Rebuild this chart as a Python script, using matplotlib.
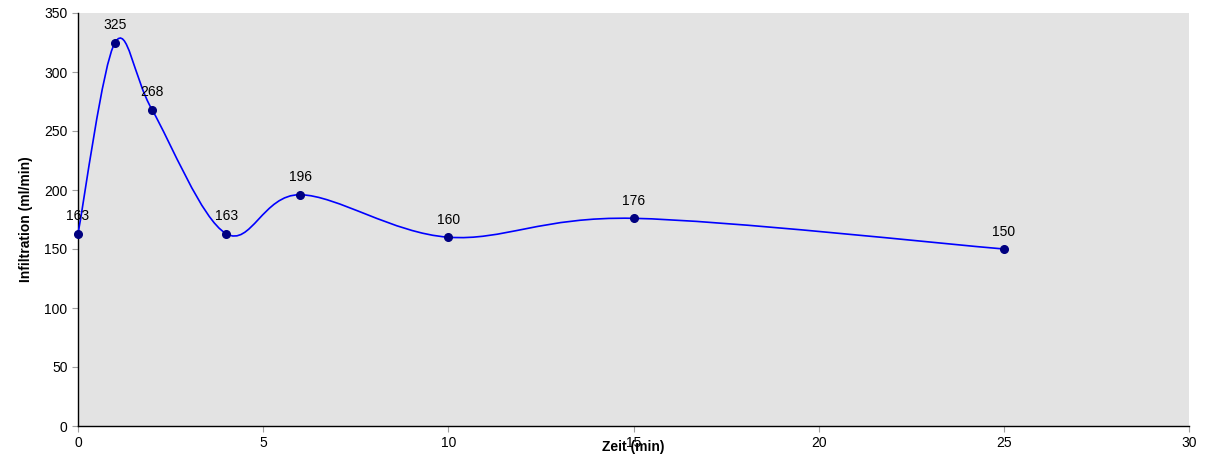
import numpy as np
import matplotlib
matplotlib.use("Agg")
import matplotlib.pyplot as plt
from matplotlib.path import Path
from matplotlib.patches import PathPatch

plt.rcParams['font.family'] = ['Liberation Sans', 'DejaVu Sans']

zeit = [0, 1, 2, 4, 6, 10, 15, 25]
infiltration = [163, 325, 268, 163, 196, 160, 176, 150]
x_ticks = [0, 5, 10, 15, 20, 25, 30]
y_ticks = [0, 50, 100, 150, 200, 250, 300, 350]

fig = plt.figure(figsize=(12.14, 4.57), dpi=100)
ax = fig.add_axes([78/1214, 1-426/457, (1189-78)/1214, (426-13)/457])
ax.set_facecolor('#E3E3E3')
ax.set_xlim(0, 30)
ax.set_ylim(0, 350)

# smooth curve (Excel-like Catmull-Rom Bezier in display space)
fig.canvas.draw()
tr = ax.transData
pts = tr.transform(np.column_stack([zeit, infiltration]))
n = len(pts)
verts = [pts[0]]
codes = [Path.MOVETO]
for i in range(n - 1):
    p0 = pts[i - 1] if i > 0 else pts[i]
    p1 = pts[i]
    p2 = pts[i + 1]
    p3 = pts[i + 2] if i + 2 < n else pts[i + 1]
    c1 = p1 + (p2 - p0) / 6.0
    c2 = p2 - (p3 - p1) / 6.0
    verts += [c1, c2, p2]
    codes += [Path.CURVE4] * 3
data_verts = tr.inverted().transform(np.array(verts))
patch = PathPatch(Path(data_verts, codes), facecolor='none', edgecolor='#0000FF',
                  lw=1.2, transform=ax.transData, zorder=3, clip_on=False)
ax.add_patch(patch)

ax.plot(zeit, infiltration, 'o', color='#000080', ms=5.5, zorder=4, clip_on=False)
for xv, yv in zip(zeit, infiltration):
    ax.annotate(str(yv), (xv, yv), xytext=(0, 7.5), textcoords='offset points',
                ha='center', va='bottom', fontsize=10, color='black')

ax.set_xticks(x_ticks)
ax.set_yticks(y_ticks)
ax.tick_params(axis='both', labelsize=10, length=4, color='#A0A0A0', width=0.8,
               direction='out')
ax.tick_params(axis='x', pad=3)
for s in ['top', 'right']:
    ax.spines[s].set_visible(False)
for s in ['left', 'bottom']:
    ax.spines[s].set_color('black')
    ax.spines[s].set_linewidth(1.0)

ax.set_xlabel('Zeit (min)', fontsize=10, fontweight='bold', labelpad=-7)
ax.set_ylabel('Infiltration (ml/min)', fontsize=10, fontweight='bold', labelpad=8)

fig.savefig('out.png', dpi=100)
